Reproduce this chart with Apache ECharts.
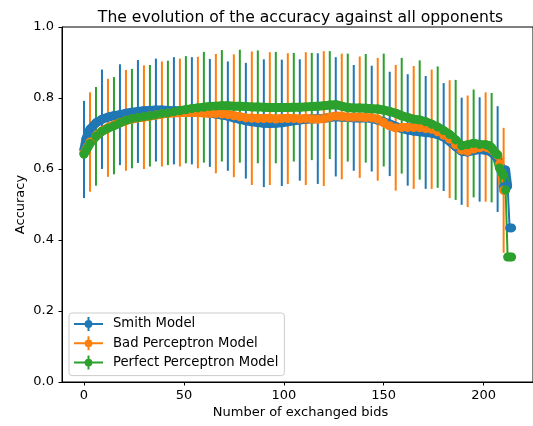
<!DOCTYPE html>
<html>
<head>
<meta charset="utf-8">
<script src="https://cdn.jsdelivr.net/npm/echarts/dist/echarts.min.js"></script>
<style>
  html, body { margin: 0; padding: 0; background: #fff; }
  #chart { width: 533px; height: 426px; }
</style>
</head>
<body>
<div id="chart"></div>
<script>
// number of exchanged bids (x positions of the plotted points)
const bids = [0, 1, 2, 3, 6, 9, 12, 15, 18, 21, 24, 27, 30, 33, 36, 39, 42, 45, 48, 51,
  54, 57, 60, 63, 66, 69, 72, 75, 78, 81, 84, 87, 90, 93, 96, 99, 102, 105, 108, 111,
  114, 117, 120, 123, 126, 129, 132, 135, 138, 141, 144, 147, 150, 153, 156, 159, 162, 165, 168, 171,
  174, 177, 180, 183, 186, 189, 192, 195, 198, 201,
  202, 203, 204, 205, 206, 207, 208, 209, 210, 211, 212, 213, 214]

const smithAcc = [0.655, 0.685, 0.700, 0.712, 0.730, 0.740, 0.746, 0.750, 0.753, 0.757, 0.760, 0.762, 0.764, 0.765, 0.766, 0.766, 0.765, 0.764, 0.764, 0.765,
  0.764, 0.762, 0.760, 0.758, 0.755, 0.752, 0.749, 0.744, 0.740, 0.736, 0.733, 0.731, 0.729, 0.728, 0.729, 0.730, 0.733, 0.736, 0.738, 0.740,
  0.741, 0.742, 0.743, 0.745, 0.747, 0.746, 0.745, 0.744, 0.744, 0.744, 0.742, 0.738, 0.733, 0.727, 0.720, 0.714, 0.710, 0.707, 0.705, 0.703,
  0.701, 0.697, 0.690, 0.678, 0.663, 0.650, 0.648, 0.652, 0.655, 0.653,
  0.652, 0.650, 0.648, 0.642, 0.636, 0.628, 0.612, 0.600, 0.550, 0.597, 0.552, 0.434, 0.434]

const badAcc = [0.645, 0.655, 0.665, 0.676, 0.693, 0.707, 0.716, 0.724, 0.731, 0.737, 0.741, 0.744, 0.746, 0.749, 0.752, 0.755, 0.757, 0.758, 0.759, 0.759,
  0.759, 0.759, 0.758, 0.757, 0.756, 0.755, 0.753, 0.750, 0.747, 0.744, 0.743, 0.742, 0.742, 0.742, 0.741, 0.742, 0.742, 0.742, 0.741, 0.742,
  0.741, 0.741, 0.742, 0.746, 0.749, 0.748, 0.746, 0.746, 0.746, 0.745, 0.744, 0.740, 0.731, 0.722, 0.716, 0.717, 0.717, 0.717, 0.716, 0.714,
  0.712, 0.705, 0.695, 0.684, 0.668, 0.653, 0.650, 0.656, 0.660, 0.662,
  0.660, 0.658, 0.655, 0.650, 0.645, 0.638, 0.615, 0.590, 0.540, null, null, null, null]

const perfectAcc = [0.642, 0.652, 0.662, 0.672, 0.692, 0.706, 0.715, 0.722, 0.730, 0.737, 0.742, 0.745, 0.748, 0.750, 0.753, 0.756, 0.758, 0.761, 0.764, 0.767,
  0.770, 0.772, 0.774, 0.776, 0.777, 0.778, 0.778, 0.777, 0.777, 0.776, 0.775, 0.775, 0.774, 0.773, 0.773, 0.773, 0.773, 0.774, 0.774, 0.775,
  0.776, 0.777, 0.778, 0.780, 0.781, 0.777, 0.773, 0.772, 0.772, 0.771, 0.770, 0.769, 0.766, 0.762, 0.757, 0.750, 0.745, 0.740, 0.738, 0.733,
  0.726, 0.718, 0.708, 0.697, 0.682, 0.665, 0.668, 0.672, 0.669, 0.668,
  0.667, 0.665, 0.660, 0.652, 0.645, 0.640, 0.603, 0.590, 0.583, 0.541, 0.352, 0.352, 0.352]

// last bid before each curve's final drop (the dense marker band ends there)
const bandEnd = [212, 210, 211]

// error bars (half widths), drawn every 9 bids
const smithErrBids = [0, 9, 18, 27, 36, 45, 54, 63, 72, 81, 90, 99, 108, 117, 126, 135, 144, 153, 162, 171, 180, 189, 198, 207]
const smithErr = [0.137, 0.140, 0.142, 0.145, 0.145, 0.151, 0.151, 0.152, 0.154, 0.163, 0.180, 0.178, 0.171, 0.184, 0.168, 0.149, 0.149, 0.147, 0.157, 0.159, 0.152, 0.151, 0.147, 0.149]
const badErrBids = [3, 12, 21, 30, 39, 48, 57, 66, 75, 84, 93, 102, 111, 120, 129, 138, 147, 156, 165, 174, 183, 192, 201, 210]
const badErr = [0.140, 0.138, 0.142, 0.146, 0.148, 0.152, 0.157, 0.168, 0.173, 0.188, 0.187, 0.184, 0.187, 0.190, 0.177, 0.171, 0.173, 0.177, 0.173, 0.168, 0.166, 0.157, 0.154, 0.176]
const perfectErrBids = [6, 15, 24, 33, 42, 51, 60, 69, 78, 87, 96, 105, 114, 123, 132, 141, 150, 159, 168, 177, 186, 195, 204]
const perfectErr = [0.139, 0.137, 0.140, 0.143, 0.147, 0.151, 0.156, 0.157, 0.159, 0.159, 0.157, 0.153, 0.151, 0.152, 0.152, 0.153, 0.159, 0.163, 0.168, 0.171, 0.169, 0.152, 0.154]

const xTicks = [0, 50, 100, 150, 200]
const names = ['Smith Model', 'Bad Perceptron Model', 'Perfect Perceptron Model']
const colors = ['#1f77b4', '#ff7f0e', '#2ca02c']

const FONT = 'DejaVu Sans'
// legend handle: line + marker + vertical error bar
const errIcon = 'path://M0,6 L29,6 L29,8 L0,8 Z M13.5,0 L15.5,0 L15.5,14 L13.5,14 Z M10.6,7 A3.9,3.9 0 1 1 18.4,7 A3.9,3.9 0 1 1 10.6,7 Z'

function points (acc, lastBid) {
  const data = []
  for (let i = 0; i < bids.length; i++) {
    if (acc[i] !== null && bids[i] <= lastBid) data.push([bids[i], acc[i]])
  }
  return data
}

function lineSeries (name, color, acc) {
  return {
    type: 'line',
    name: name,
    data: points(acc, Infinity),
    z: 4,
    symbol: 'circle',
    symbolSize: 9,
    showSymbol: true,
    showAllSymbol: true,
    itemStyle: {color: color, borderWidth: 0},
    lineStyle: {color: color, width: 2},
    emphasis: {disabled: true},
    animation: false
  }
}

// thick stroke under the markers so the overlapping dots read as one band
function bandSeries (name, color, acc, lastBid) {
  return {
    type: 'line',
    name: name,
    data: points(acc, lastBid),
    z: 3,
    showSymbol: false,
    lineStyle: {color: color, width: 9, cap: 'round', join: 'round'},
    emphasis: {disabled: true},
    silent: true,
    animation: false
  }
}

function errSeries (name, color, xs, errs, acc) {
  const data = xs.map((b, i) => {
    const c = acc[bids.indexOf(b)]
    return [b, c - errs[i], c + errs[i]]
  })
  return {
    type: 'custom',
    name: name,
    data: data,
    z: 2,
    silent: true,
    encode: {x: 0, y: [1, 2]},
    renderItem: function (params, api) {
      const p1 = api.coord([api.value(0), api.value(1)])
      const p2 = api.coord([api.value(0), api.value(2)])
      return {
        type: 'line',
        shape: {x1: p1[0], y1: p1[1], x2: p2[0], y2: p2[1]},
        style: {stroke: color, lineWidth: 2}
      }
    },
    animation: false
  }
}

const chart = echarts.init(document.getElementById('chart'), null, {renderer: 'canvas'})
chart.setOption({
  animation: false,
  color: colors,
  title: {
    text: 'The evolution of the accuracy against all opponents',
    left: 295.5,
    textAlign: 'center',
    top: 5,
    textStyle: {fontFamily: FONT, fontSize: 15.6, fontWeight: 'normal', color: '#000'}
  },
  grid: {
    left: 62, top: 27, bottom: 44, right: -7,
    show: true, borderColor: '#000', borderWidth: 1, backgroundColor: 'transparent'
  },
  legend: {
    orient: 'vertical',
    left: 69,
    top: 313,
    padding: [4, 6, 6, 5],
    itemWidth: 29,
    itemHeight: 14,
    itemGap: 5.3,
    backgroundColor: 'rgba(255,255,255,0.8)',
    borderColor: '#cccccc',
    borderWidth: 1,
    borderRadius: 3,
    selectedMode: false,
    textStyle: {fontFamily: FONT, fontSize: 13.2, color: '#000', padding: [0, 0, 0, 5]},
    data: names.map((n, i) => ({name: n, icon: errIcon, itemStyle: {color: colors[i], borderWidth: 0}}))
  },
  xAxis: {
    type: 'value',
    min: -11,
    max: 224.7,
    splitLine: {show: false},
    axisLine: {show: true, onZero: false, lineStyle: {color: '#000', width: 1}},
    axisTick: {show: true, length: 3.5, customValues: xTicks, lineStyle: {color: '#000'}},
    axisLabel: {customValues: xTicks, margin: 7.5, fontFamily: FONT, fontSize: 13, color: '#000'}
  },
  yAxis: {
    type: 'value',
    min: 0,
    max: 1,
    interval: 0.2,
    splitLine: {show: false},
    axisLine: {show: true, onZero: false, lineStyle: {color: '#000', width: 1}},
    axisTick: {show: true, length: 3.5, lineStyle: {color: '#000'}},
    axisLabel: {margin: 8, fontFamily: FONT, fontSize: 13, color: '#000', formatter: v => v.toFixed(1)}
  },
  graphic: [
    {
      type: 'text', x: 20.5, y: 204.5, rotation: Math.PI / 2,
      style: {text: 'Accuracy', font: '13px "DejaVu Sans"', fill: '#000', align: 'center', verticalAlign: 'middle'}
    },
    {
      type: 'text', x: 300.5, y: 413,
      style: {text: 'Number of exchanged bids', font: '13px "DejaVu Sans"', fill: '#000', align: 'center', verticalAlign: 'middle'}
    }
  ],
  series: [
    errSeries('smith-err', colors[0], smithErrBids, smithErr, smithAcc),
    errSeries('bad-err', colors[1], badErrBids, badErr, badAcc),
    errSeries('perfect-err', colors[2], perfectErrBids, perfectErr, perfectAcc),
    bandSeries('smith-band', colors[0], smithAcc, bandEnd[0]),
    lineSeries(names[0], colors[0], smithAcc),
    bandSeries('bad-band', colors[1], badAcc, bandEnd[1]),
    lineSeries(names[1], colors[1], badAcc),
    bandSeries('perfect-band', colors[2], perfectAcc, bandEnd[2]),
    lineSeries(names[2], colors[2], perfectAcc)
  ]
})
</script>
</body>
</html>
